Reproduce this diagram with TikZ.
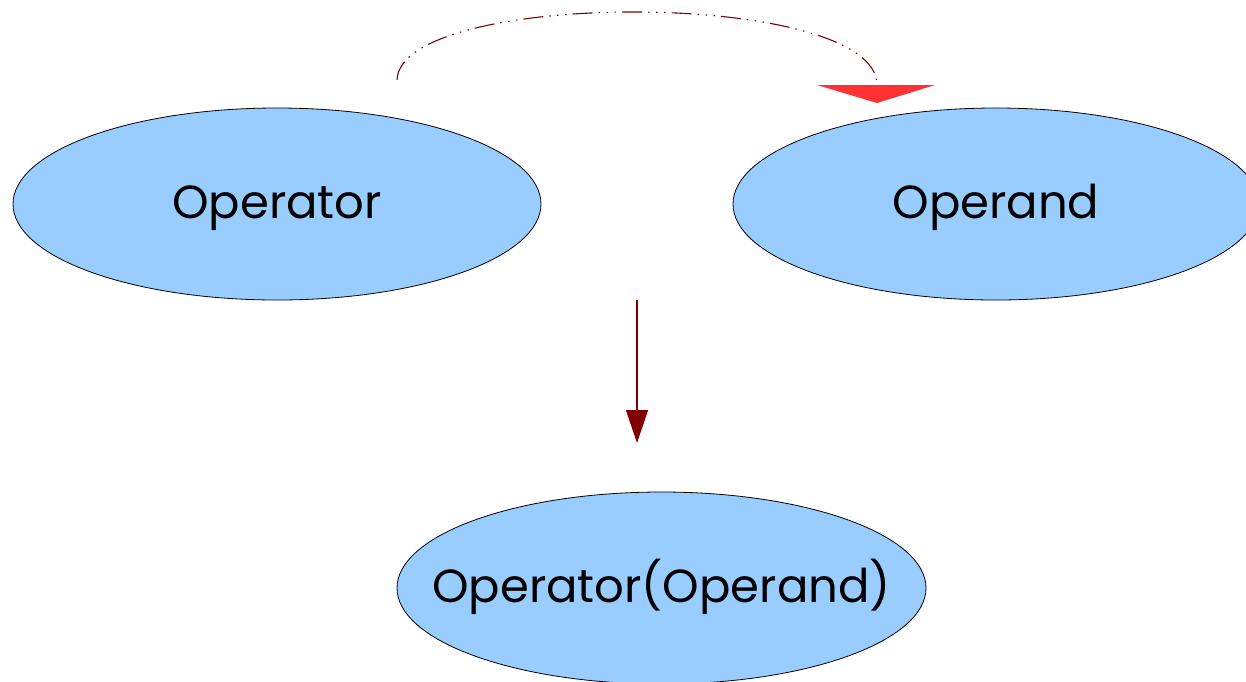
\documentclass[tikz,border=0pt]{standalone}
\usepackage{fontspec}
\setmainfont{Poppins}
\usetikzlibrary{shapes.geometric,arrows.meta}
\definecolor{bubble}{HTML}{99CCFF}
\definecolor{darkred}{HTML}{800000}
\definecolor{brightred}{HTML}{FF3333}
% label sits with its baseline a little below the bubble centre
\newcommand{\bubbletext}[1]{\smash{\raisebox{-14pt}{\makebox[0pt]{#1}}}}
\tikzset{
  bubble/.style={ellipse, draw=black, line width=0.8pt, fill=bubble,
    inner sep=0pt, font=\fontsize{46.5}{54}\selectfont},
  flow/.style={darkred, line width=1.2pt},
  link/.style={darkred, line width=1.1pt,
    dash pattern=on 20pt off 6pt on 1.5pt off 6.5pt on 1.5pt off 6.5pt on 1.5pt off 6pt},
}
\begin{document}
\begin{tikzpicture}[x=1pt,y=-1pt]
  \useasboundingbox (0,0) rectangle (1246,681);
  \fill[white] (0,0) rectangle (1246,681);

  \node[bubble, minimum width=528pt, minimum height=192pt] (operator) at (277,204) {\bubbletext{Operator}};
  \node[bubble, minimum width=526pt, minimum height=192pt] (operand) at (996,204) {\bubbletext{Operand}};
  \node[bubble, minimum width=529pt, minimum height=192pt] (result) at (661.5,588) {\bubbletext{Operator(Operand)}};

  % vertical application arrow
  \coordinate (down start) at (637,300);
  \coordinate (down end) at (637,443);
  \draw[flow, -{Triangle[width=22pt,length=33pt]}] (down start) -- (down end);

  % curved link from operator to operand
  \coordinate (arc start) at (397,80);
  \coordinate (arc end) at (877,85);
  \coordinate (tip) at (877,103);
  \draw[link] (arc start) .. controls (400,-11.5) and (877,-11.5) .. (arc end);
  \fill[brightred] (817,85) -- (935,85) -- (tip) -- cycle;
\end{tikzpicture}
\end{document}
